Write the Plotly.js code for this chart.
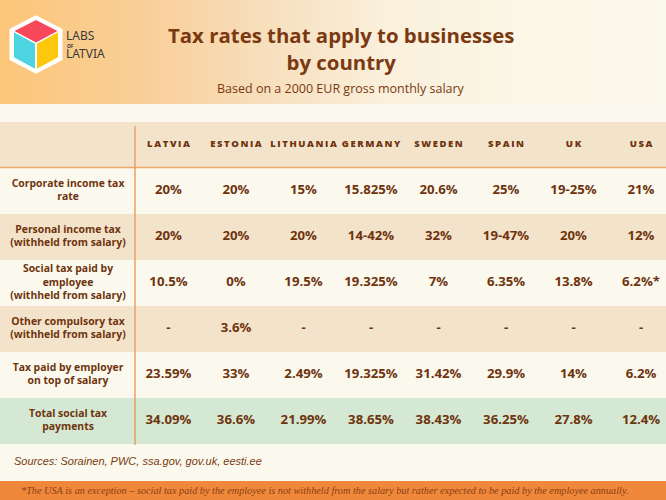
<!DOCTYPE html>
<html>
<head>
<meta charset="utf-8">
<script src="https://cdn.plot.ly/plotly-3.0.1.min.js"></script>
<style>
  html, body { margin: 0; padding: 0; }
  #chart {
    width: 666px; height: 500px;
    background:
      linear-gradient(90deg, #fcc67a 0%, #f9cf98 22%, #f7dfbd 40%, #faf0dc 58%, #fbf6e6 78%, #fbf8ec 100%) top left / 100% 104px no-repeat,
      #fbf9ee;
  }
</style>
</head>
<body>
<div id="chart"></div>
<script>
// ---------- data ----------
const countries = ['LATVIA', 'ESTONIA', 'LITHUANIA', 'GERMANY', 'SWEDEN', 'SPAIN', 'UK', 'USA'];
const taxTypes = [
  'Corporate income tax<br>rate',
  'Personal income tax<br>(withheld from salary)',
  'Social tax paid by<br>employee<br>(withheld from salary)',
  'Other compulsory tax<br>(withheld from salary)',
  'Tax paid by employer<br>on top of salary',
  'Total social tax<br>payments'
];
const corporateTax   = ['20%', '20%', '15%', '15.825%', '20.6%', '25%', '19-25%', '21%'];
const personalTax    = ['20%', '20%', '20%', '14-42%', '32%', '19-47%', '20%', '12%'];
const socialEmployee = ['10.5%', '0%', '19.5%', '19.325%', '7%', '6.35%', '13.8%', '6.2%*'];
const otherTax       = ['-', '3.6%', '-', '-', '-', '-', '-', '-'];
const employerTax    = ['23.59%', '33%', '2.49%', '19.325%', '31.42%', '29.9%', '14%', '6.2%'];
const totalSocial    = ['34.09%', '36.6%', '21.99%', '38.65%', '38.43%', '36.25%', '27.8%', '12.4%'];
const rowValues = [corporateTax, personalTax, socialEmployee, otherTax, employerTax, totalSocial];

const titleText = 'Tax rates that apply to businesses<br>by country';
const subtitleText = 'Based on a 2000 EUR gross monthly salary';
const sourcesText = 'Sources: Sorainen, PWC, ssa.gov, gov.uk, eesti.ee';
const footnoteText = '*The USA is an exception \u2013 social tax paid by the employee is not withheld from the salary but rather expected to be paid by the employee annually.';
const logoLines = ['LABS', 'OF', 'LATVIA'];

// ---------- styles ----------
const W = 666, H = 500;
const brown = '#6e340e';
const headerKey = 'header';
const rowKeys = [headerKey].concat(taxTypes);
const rowColors = rowKeys.map((k, i) => i === rowKeys.length - 1 ? '#d5e8d3' : (i % 2 === 0 ? '#f4e3cb' : '#fbf9ee'));
const spaced = s => s.split('').join('\u2009');

const px = x => x / W;
const py = y => 1 - y / H;
const pathOf = pts => 'M ' + pts.map(p => px(p[0]) + ',' + py(p[1])).join(' L ') + ' Z';

const traces = [];
// row backgrounds
traces.push({
  type: 'bar', orientation: 'h',
  y: rowKeys, x: rowKeys.map(() => 1), base: 0, width: 1,
  marker: { color: rowColors, line: { width: 0 } },
  xaxis: 'x', yaxis: 'y', hoverinfo: 'skip', showlegend: false
});
// header country names
traces.push({
  type: 'scatter', mode: 'text',
  x: countries, y: countries.map(() => headerKey),
  text: countries.map(spaced),
  textposition: 'middle center',
  textfont: { family: 'Open Sans', size: 9.5, color: brown, weight: 800 },
  xaxis: 'x2', yaxis: 'y', hoverinfo: 'skip', showlegend: false, cliponaxis: false
});
// values
rowValues.forEach((vals, r) => {
  traces.push({
    type: 'scatter', mode: 'text',
    x: countries, y: countries.map(() => taxTypes[r]),
    text: vals,
    textposition: 'middle center',
    textfont: { family: 'Open Sans', size: 13.2, color: brown, weight: 700 },
    xaxis: 'x2', yaxis: 'y', hoverinfo: 'skip', showlegend: false, cliponaxis: false
  });
});
// row labels
traces.push({
  type: 'scatter', mode: 'text',
  x: taxTypes.map(() => 'label'), y: taxTypes,
  text: taxTypes,
  textposition: 'middle center',
  textfont: { family: 'Open Sans', size: 10.4, color: brown, weight: 700 },
  xaxis: 'x3', yaxis: 'y', hoverinfo: 'skip', showlegend: false, cliponaxis: false
});

const hidden = { visible: false, fixedrange: true, showgrid: false, zeroline: false };

const layout = {
  width: W, height: H,
  margin: { l: 0, r: 0, t: 0, b: 0, pad: 0 },
  paper_bgcolor: 'rgba(0,0,0,0)', plot_bgcolor: 'rgba(0,0,0,0)',
  showlegend: false, bargap: 0,
  xaxis: Object.assign({}, hidden, { domain: [0, 1], range: [0, 1] }),
  xaxis2: Object.assign({}, hidden, { overlaying: 'x', anchor: 'y', type: 'category', categoryarray: countries, range: [-2.496, 7.370] }),
  xaxis3: Object.assign({}, hidden, { overlaying: 'x', anchor: 'y', type: 'category', categoryarray: ['label'], range: [-0.504, 4.43] }),
  yaxis: Object.assign({}, hidden, { type: 'category', categoryarray: rowKeys, range: [rowKeys.length - 0.5, -0.5], domain: [py(444), py(122)] }),
  shapes: [
    { type: 'line', xref: 'paper', yref: 'paper', x0: 0, x1: 1, y0: py(167.5), y1: py(167.5), line: { color: '#eca868', width: 1.5 } },
    { type: 'line', xref: 'paper', yref: 'paper', x0: px(135), x1: px(135), y0: py(126), y1: py(445), line: { color: '#e8a064', width: 1.5 } },
    { type: 'rect', xref: 'paper', yref: 'paper', x0: 0, x1: 1, y0: 0, y1: py(481), fillcolor: '#f0883c', line: { width: 0 } },
    { type: 'path', xref: 'paper', yref: 'paper', path: pathOf([[36, 17], [61, 30], [61, 59], [36, 72], [11, 59], [11, 30]]), fillcolor: '#ffffff', line: { color: '#ffffff', width: 3 } },
    { type: 'path', xref: 'paper', yref: 'paper', path: pathOf([[36, 19.5], [58.5, 31], [36, 43], [13.5, 31]]), fillcolor: '#f7485c', line: { color: '#ffffff', width: 1 } },
    { type: 'path', xref: 'paper', yref: 'paper', path: pathOf([[13.5, 31.5], [35.5, 43.5], [35.5, 69.5], [13.5, 57.5]]), fillcolor: '#4cd4e0', line: { color: '#ffffff', width: 1 } },
    { type: 'path', xref: 'paper', yref: 'paper', path: pathOf([[36.5, 43.5], [58.5, 31.5], [58.5, 57.5], [36.5, 69.5]]), fillcolor: '#fdc80c', line: { color: '#ffffff', width: 1 } }
  ],
  annotations: [
    { text: titleText, xref: 'paper', yref: 'paper', x: px(341), y: py(48.5), xanchor: 'center', yanchor: 'middle', showarrow: false,
      font: { family: 'Open Sans', size: 20.4, color: '#7a3910', weight: 700 } },
    { text: subtitleText, xref: 'paper', yref: 'paper', x: px(341), y: py(89), xanchor: 'center', yanchor: 'middle', showarrow: false,
      font: { family: 'Open Sans', size: 12.5, color: '#7a3910' } },
    { text: sourcesText, xref: 'paper', yref: 'paper', x: px(12), y: py(461), xanchor: 'left', yanchor: 'middle', showarrow: false,
      font: { family: 'Liberation Sans', size: 11, color: '#7a3910', style: 'italic' } },
    { text: footnoteText, xref: 'paper', yref: 'paper', x: px(19), y: py(490.5), xanchor: 'left', yanchor: 'middle', showarrow: false,
      font: { family: 'Liberation Sans Narrow', size: 10.25, color: '#8a3d10', style: 'italic' } },
    { text: logoLines[0], xref: 'paper', yref: 'paper', x: px(65), y: py(35), xanchor: 'left', yanchor: 'middle', showarrow: false, height: 10, borderpad: 0,
      font: { family: 'Noto Sans', size: 12, color: '#3a3a3a' } },
    { text: logoLines[1], xref: 'paper', yref: 'paper', x: px(66), y: py(45.2), xanchor: 'left', yanchor: 'middle', showarrow: false, height: 5, borderpad: 0,
      font: { family: 'Noto Sans', size: 4.8, color: '#3a3a3a', weight: 700 } },
    { text: logoLines[2], xref: 'paper', yref: 'paper', x: px(65), y: py(53.5), xanchor: 'left', yanchor: 'middle', showarrow: false, height: 10, borderpad: 0,
      font: { family: 'Noto Sans', size: 12, color: '#3a3a3a' } }
  ]
};

Plotly.newPlot('chart', traces, layout, { staticPlot: true, displayModeBar: false });
</script>
</body>
</html>
